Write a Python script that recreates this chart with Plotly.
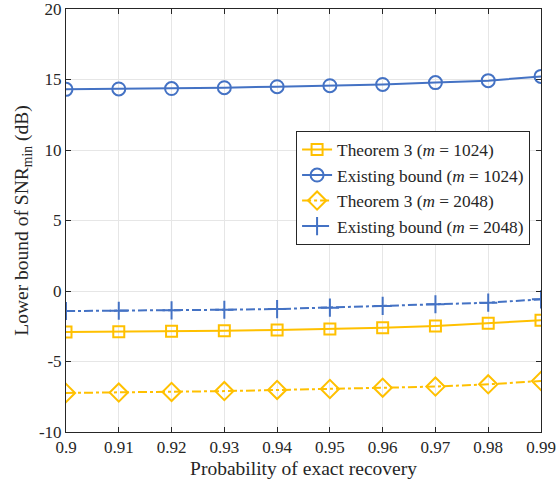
import plotly.graph_objects as go

prob = [0.90, 0.91, 0.92, 0.93, 0.94, 0.95, 0.96, 0.97, 0.98, 0.99]
thm_1024 = [-2.91, -2.89, -2.86, -2.82, -2.77, -2.70, -2.60, -2.48, -2.29, -2.08]
exist_1024 = [14.30, 14.33, 14.36, 14.42, 14.49, 14.56, 14.65, 14.78, 14.92, 15.22]
thm_2048 = [-7.23, -7.20, -7.16, -7.10, -7.02, -6.95, -6.86, -6.78, -6.62, -6.38]
exist_2048 = [-1.42, -1.40, -1.37, -1.33, -1.28, -1.18, -1.06, -0.94, -0.83, -0.59]

xticks = [0.90, 0.91, 0.92, 0.93, 0.94, 0.95, 0.96, 0.97, 0.98, 0.99]
xticklabels = ["0.9", "0.91", "0.92", "0.93", "0.94", "0.95", "0.96", "0.97", "0.98", "0.99"]
yticks = [-10, -5, 0, 5, 10, 15, 20]
yticklabels = ["-10", "-5", "0", "5", "10", "15", "20"]

YEL = "#FFC000"
BLU = "#4472C4"
FONT = "Liberation Serif"

fig = go.Figure()
fig.add_trace(go.Scatter(x=prob, y=thm_1024, mode="lines+markers",
                         name="Theorem 3 (<i>m</i> = 1024)",
                         line=dict(color=YEL, width=2, dash="solid"),
                         marker=dict(symbol="square-open", size=11, color=YEL, line=dict(width=2))))
fig.add_trace(go.Scatter(x=prob, y=exist_1024, mode="lines+markers",
                         name="Existing bound (<i>m</i> = 1024)",
                         line=dict(color=BLU, width=2, dash="solid"),
                         marker=dict(symbol="circle-open", size=13, color=BLU, line=dict(width=2))))
fig.add_trace(go.Scatter(x=prob, y=thm_2048, mode="lines+markers",
                         name="Theorem 3 (<i>m</i> = 2048)",
                         line=dict(color=YEL, width=2, dash="dashdot"),
                         marker=dict(symbol="diamond-open", size=14, color=YEL, line=dict(width=2))))
fig.add_trace(go.Scatter(x=prob, y=exist_2048, mode="lines+markers",
                         name="Existing bound (<i>m</i> = 2048)",
                         line=dict(color=BLU, width=2, dash="dashdot"),
                         marker=dict(symbol="cross-thin-open", size=13, color=BLU, line=dict(width=2, color=BLU))))

axis_common = dict(showline=True, linecolor="#262626", linewidth=1, mirror="ticks",
                   ticks="inside", ticklen=5, tickcolor="#262626", automargin=False,
                   ticklabeloverflow="allow",
                   showgrid=True, gridcolor="#E6E6E6", gridwidth=1, zeroline=False,
                   tickfont=dict(family=FONT, size=17, color="#262626"))

fig.update_layout(
    width=558, height=487,
    margin=dict(l=66, r=17, t=9, b=55),
    paper_bgcolor="white", plot_bgcolor="white",
    font=dict(family=FONT, size=17, color="#262626"),
    xaxis=dict(range=[0.9, 0.99], tickvals=xticks, ticktext=xticklabels,
               title=dict(text="Probability of exact recovery", font=dict(family=FONT, size=19.5), standoff=4),
               **axis_common),
    yaxis=dict(range=[-10, 20], tickvals=yticks, ticktext=yticklabels,
               title=dict(text="Lower bound of SNR<sub>min</sub> (dB)", font=dict(family=FONT, size=19.5), standoff=5),
               **axis_common),
    legend=dict(x=0.977, xanchor="right", y=0.712, yanchor="top",
                bgcolor="white", bordercolor="#262626", borderwidth=1,
                font=dict(family=FONT, size=17.3, color="#262626"),
                tracegroupgap=0, itemwidth=30),
    showlegend=True,
)

fig.write_html("out.html")
